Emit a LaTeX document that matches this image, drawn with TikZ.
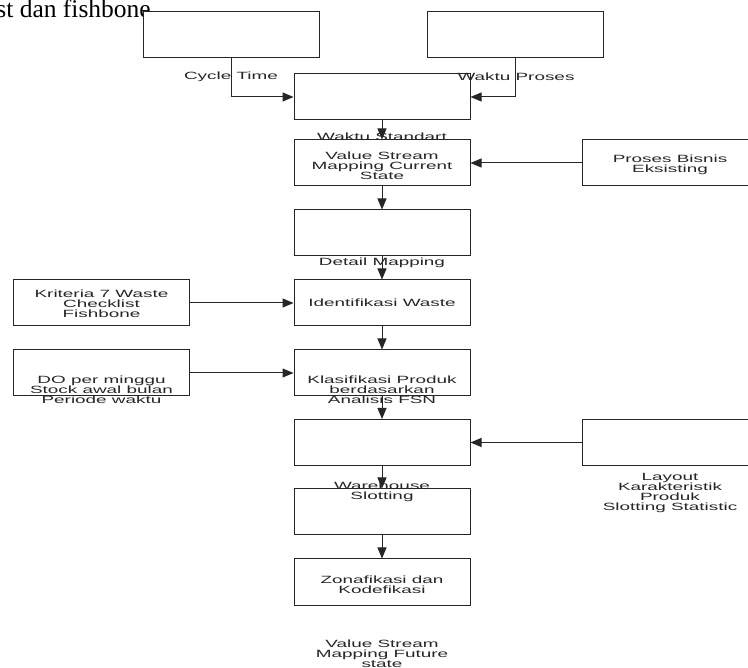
\documentclass[tikz,border=0pt]{standalone}
\usepackage{fontspec}
\setmainfont{Liberation Serif}
\newfontfamily\lblfont[FakeStretch=1.8]{Liberation Sans}
\usetikzlibrary{arrows.meta}
\tikzset{
  box/.style={draw=black!85, line width=1pt, minimum width=176pt, minimum height=46pt, inner sep=0pt, fill=white},
  txt/.style={font=\lblfont\fontsize{10.5}{10}\selectfont, align=center, inner sep=0pt, text=black!85},
  arr/.style={draw=black!85, line width=1pt, -{Triangle[length=11pt,width=9pt]}},
}
\begin{document}
\begin{tikzpicture}[x=1pt,y=-1pt]
\useasboundingbox (0,0) rectangle (748,668);
\clip (0,0) rectangle (748,668);
\fill[white] (0,0) rectangle (748,668);
% serif caption fragment
\node[anchor=base east, inner sep=0pt, font=\fontsize{25.5}{25}\selectfont] (cap) at (151,18) {st dan fishbone};
% boxes
\node[box] (A) at (231,35) {};
\node[box] (A2) at (515.5,35) {};
\node[box] (B) at (382,97) {};
\node[box] (C) at (382,163) {};
\node[box] (P) at (670,163) {};
\node[box] (D) at (382,233) {};
\node[box] (E) at (382,303) {};
\node[box] (K) at (101.5,303) {};
\node[box] (F) at (382,373) {};
\node[box] (DO) at (101.5,373) {};
\node[box] (G) at (382,442.5) {};
\node[box] (R) at (670,442.5) {};
\node[box] (H) at (382,512) {};
\node[box] (I) at (382,582) {};
% texts
\node[txt] (tCT) at (231,77) {Cycle Time};
\node[txt] (tWP) at (516,77) {Waktu Proses};
\node[txt] (tWS) at (382,137) {Waktu Standart};
\node[txt] (tC) at (382,166) {Value Stream\\Mapping Current\\State};
\node[txt] (tP) at (670,164.5) {Proses Bisnis\\Eksisting};
\node[txt] (tD) at (382,263) {Detail Mapping};
\node[txt] (tE) at (382,303) {Identifikasi Waste};
\node[txt] (tK) at (101.5,304) {Kriteria 7 Waste\\Checklist\\Fishbone};
\node[txt] (tDO) at (101.5,390) {DO per minggu\\Stock awal bulan\\Periode waktu};
\node[txt] (tF) at (382,390) {Klasifikasi Produk\\berdasarkan\\Analisis FSN};
\node[txt] (tR) at (670,493) {Layout\\Karakteristik\\Produk\\Slotting Statistic};
\node[txt] (tH) at (382,492) {Warehouse\\Slotting};
\node[txt] (tI) at (382,585) {Zonafikasi dan\\Kodefikasi};
\node[txt] (tV) at (382,654) {Value Stream\\Mapping Future\\state};
% connectors
\draw[arr] (A.south) |- (B.west);
\draw[arr] (A2.south) |- (B.east);
\draw[arr] (B.south) -- (C.north);
\draw[arr] (P.west) -- (C.east);
\draw[arr] (C.south) -- (D.north);
\draw[arr] (D.south) -- (E.north);
\draw[arr] (K.east) -- (E.west);
\draw[arr] (E.south) -- (F.north);
\draw[arr] (DO.east) -- (F.west);
\draw[arr] (F.south) -- (G.north);
\draw[arr] (R.west) -- (G.east);
\draw[arr] (G.south) -- (H.north);
\draw[arr] (H.south) -- (I.north);
\end{tikzpicture}
\end{document}
